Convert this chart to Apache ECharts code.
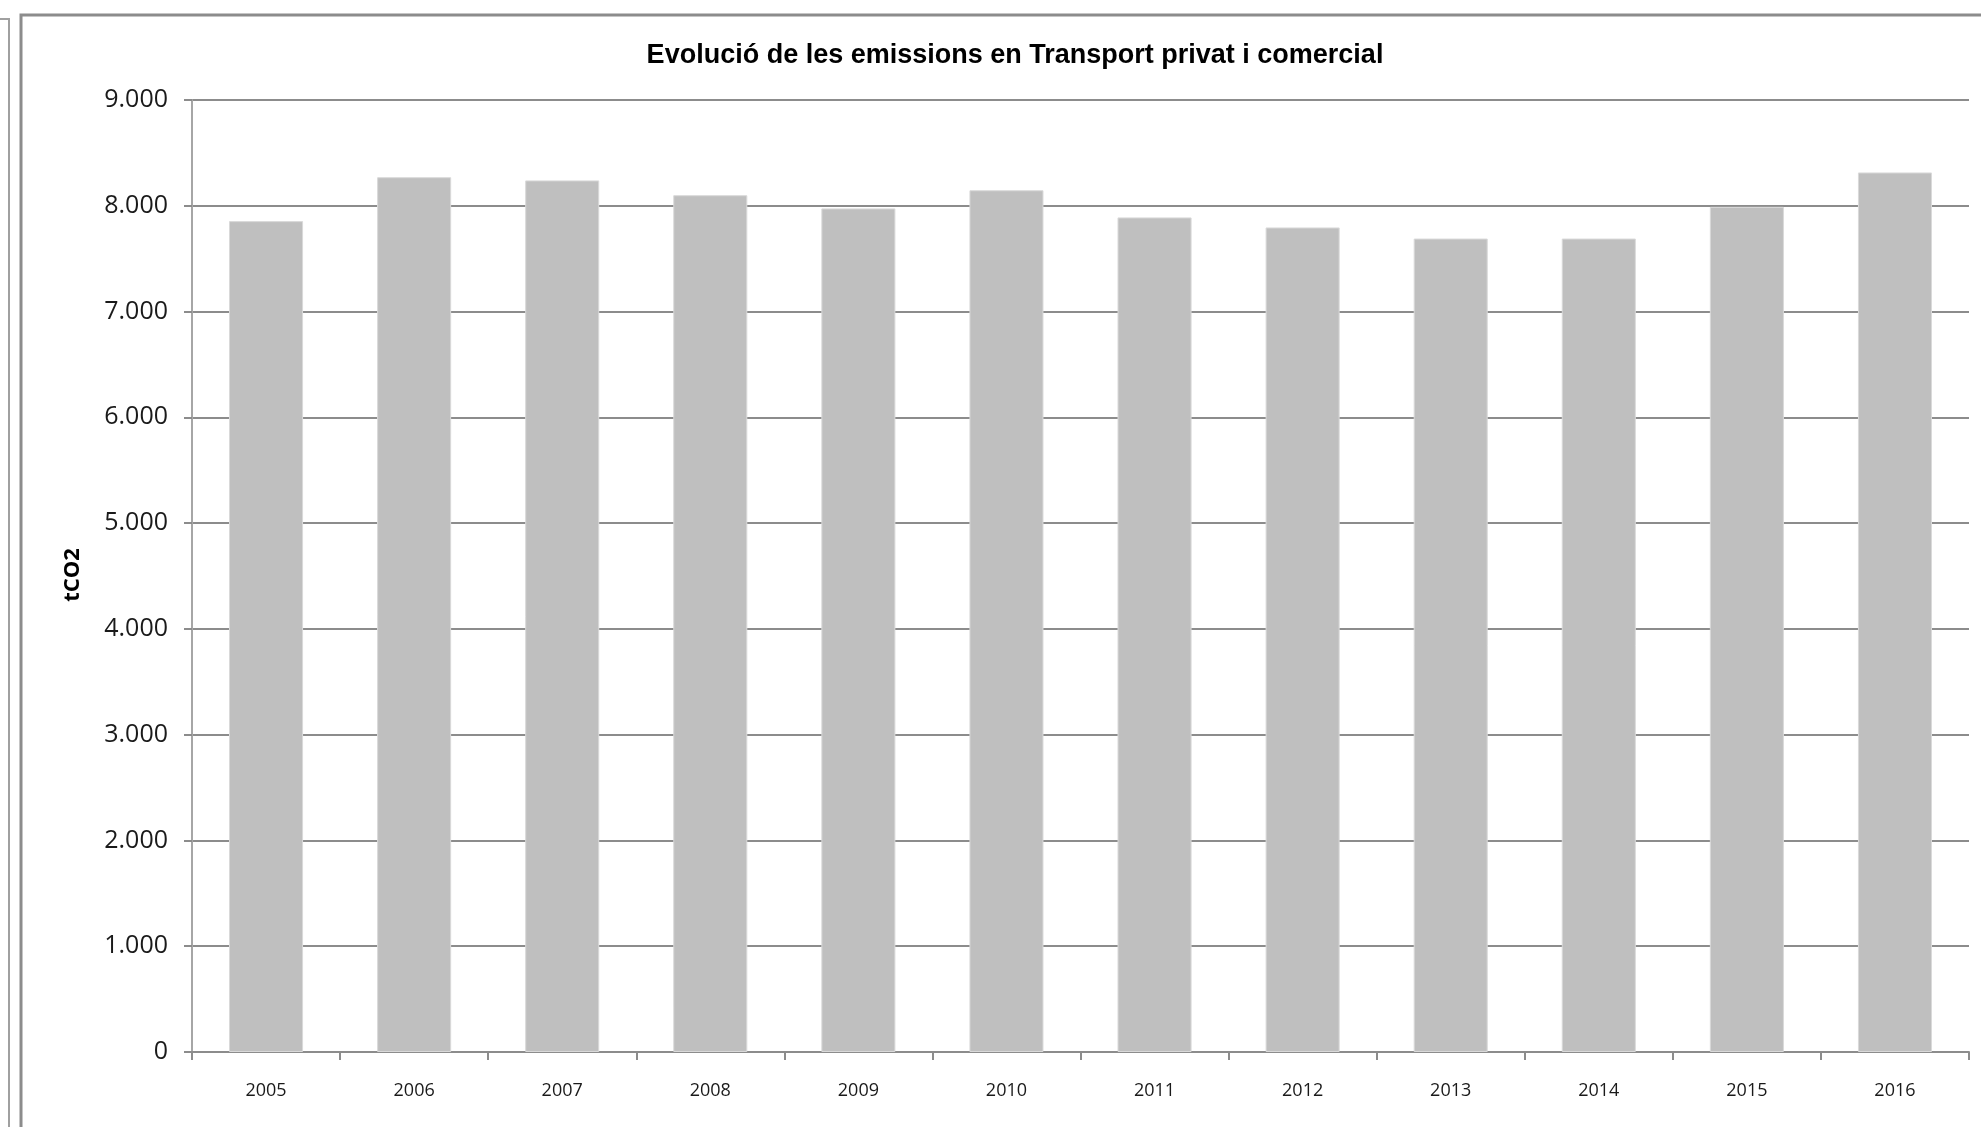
<!DOCTYPE html>
<html>
<head>
<meta charset="utf-8">
<title>Evolució de les emissions en Transport privat i comercial</title>
<script src="https://cdn.jsdelivr.net/npm/echarts@6/dist/echarts.min.js"></script>
<style>
  html, body { margin: 0; padding: 0; background: #fff; }
  #chart { width: 1981px; height: 1127px; }
</style>
</head>
<body>
<div id="chart"></div>
<script>
// Emissions (tCO2) per year, private and commercial transport
const years = ['2005', '2006', '2007', '2008', '2009', '2010', '2011', '2012', '2013', '2014', '2015', '2016'];
const emissions = [7855, 8270, 8240, 8100, 7975, 8147, 7890, 7795, 7690, 7690, 7990, 8315];
const titleText = 'Evolució de les emissions en Transport privat i comercial';
const yAxisName = 'tCO2';

const chart = echarts.init(document.getElementById('chart'));

// thousands separator with a dot
const fmt = v => String(v).replace(/\B(?=(\d{3})+(?!\d))/g, '.');

chart.setOption({
  animation: false,
  backgroundColor: '#ffffff',
  title: {
    text: titleText,
    left: 1010,
    top: 37,
    textAlign: 'center',
    textStyle: {
      fontFamily: 'Liberation Sans',
      fontWeight: 'bold',
      fontSize: 27,
      color: '#000'
    }
  },
  graphic: [
    // frame of the chart area
    {
      type: 'rect',
      shape: { x: 21, y: 15, width: 2000, height: 1200 },
      style: { fill: 'none', stroke: '#8c8c8c', lineWidth: 3 },
      silent: true
    },
    // neighbouring frame edge on the left
    {
      type: 'polyline',
      shape: { points: [[0, 19], [9, 19], [9, 1127]] },
      style: { fill: 'none', stroke: '#a0a0a0', lineWidth: 2 },
      silent: true
    },
    {
      type: 'text',
      x: 73,
      y: 575,
      rotation: Math.PI / 2,
      style: {
        text: yAxisName,
        fontFamily: 'Open Sans',
        fontWeight: 'bold',
        fontSize: 22,
        fill: '#000',
        align: 'center',
        verticalAlign: 'middle'
      },
      silent: true
    }
  ],
  grid: { left: 192, right: 12, top: 100, bottom: 75 },
  xAxis: {
    type: 'category',
    data: years,
    axisLine: { lineStyle: { color: '#8c8c8c', width: 2 } },
    axisTick: { show: true, length: 8, lineStyle: { color: '#8c8c8c', width: 2 } },
    axisLabel: {
      margin: 30,
      fontFamily: 'Open Sans',
      fontSize: 18,
      color: '#1a1a1a'
    }
  },
  yAxis: {
    type: 'value',
    min: 0,
    max: 9000,
    interval: 1000,
    axisLine: { show: true, lineStyle: { color: '#a6a6a6', width: 2 } },
    axisTick: { show: true, length: 8, lineStyle: { color: '#8c8c8c', width: 2 } },
    splitLine: { show: true, lineStyle: { color: '#8c8c8c', width: 2 } },
    axisLabel: {
      margin: 24,
      fontFamily: 'Open Sans',
      fontSize: 25,
      color: '#1a1a1a',
      formatter: fmt
    }
  },
  series: [{
    type: 'bar',
    data: emissions,
    barCategoryGap: '50%',
    itemStyle: { color: '#bfbfbf', borderColor: '#d9d9d9', borderWidth: 1 },
    z: 3
  }]
});
</script>
</body>
</html>
